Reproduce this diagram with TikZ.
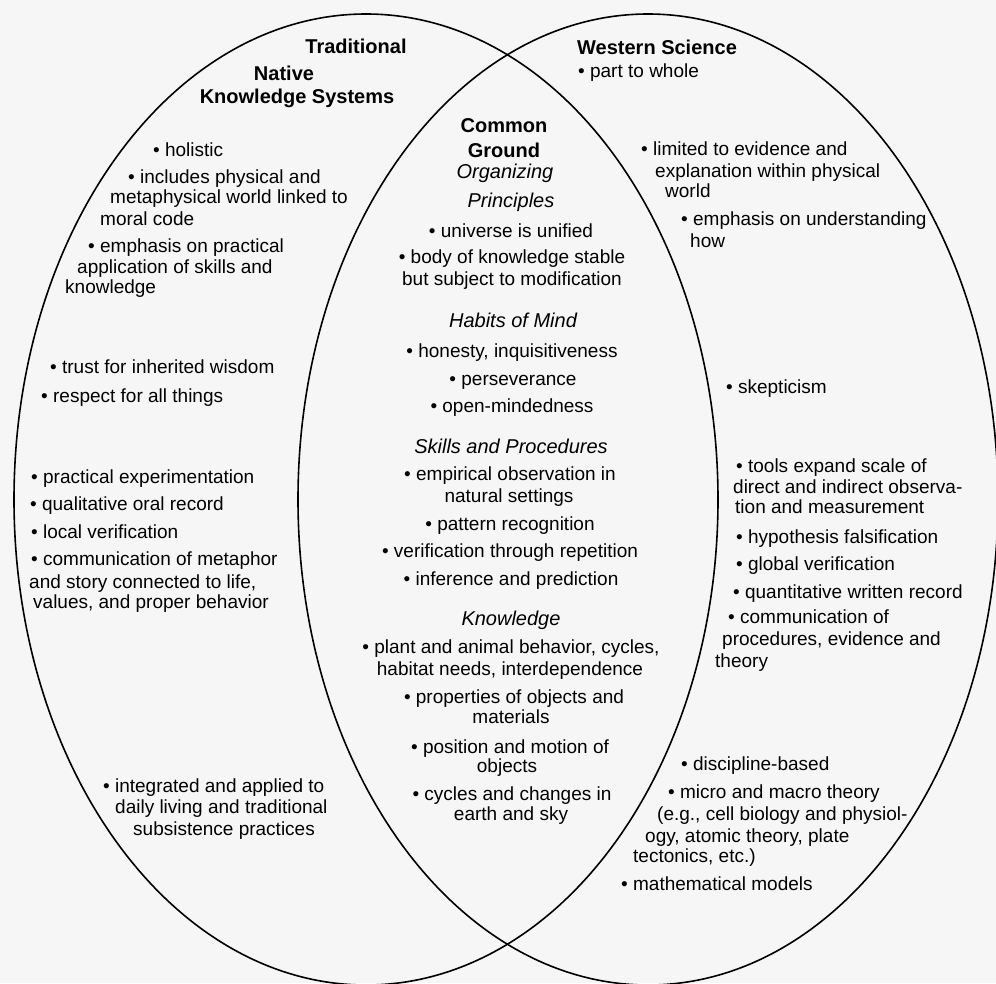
\documentclass[tikz,border=0pt]{standalone}
\usepackage{fontspec}
\setmainfont{Liberation Sans}
\definecolor{bg}{RGB}{246,246,246}
\tikzset{
  body/.style={inner sep=0pt, font=\fontsize{19}{21}\selectfont},
  lft/.style={body, anchor=base west},
  ctr/.style={body, anchor=base},
  ttl/.style={inner sep=0pt, font=\fontsize{20}{22}\selectfont\bfseries},
  hd/.style={inner sep=0pt, anchor=base, font=\fontsize{20}{22}\selectfont\itshape},
  ring/.style={draw=black, line width=1.6pt}
}
\begin{document}
\begin{tikzpicture}[x=1pt,y=-1pt]
\path[fill=bg, use as bounding box] (0,0) rectangle (996,983);
% the two ellipses
\draw[ring] (366,499.5) ellipse [x radius=352pt, y radius=485.5pt];
\draw[ring] (648,499.5) ellipse [x radius=350pt, y radius=485.5pt];

% ---- Traditional Native Knowledge Systems ----
\node[ttl, anchor=base] (t1) at (356,53) {Traditional};
\node[ttl, anchor=base] (t2) at (284,80) {Native};
\node[ttl, anchor=base] (t3) at (297,103) {Knowledge Systems};
\node[lft] (a1) at (153,156) {• holistic};
\node[lft] (a2) at (128,183) {• includes physical and};
\node[lft] (a3) at (110,203) {metaphysical world linked to};
\node[lft] (a4) at (100,225) {moral code};
\node[lft] (a5) at (88,252) {• emphasis on practical};
\node[lft] (a6) at (77,273) {application of skills and};
\node[lft] (a7) at (65,293) {knowledge};
\node[lft] (a8) at (50,373) {• trust for inherited wisdom};
\node[lft] (a9) at (41,402) {• respect for all things};
\node[lft] (a10) at (31,483) {• practical experimentation};
\node[lft] (a11) at (30,510) {• qualitative oral record};
\node[lft] (a12) at (31,538) {• local verification};
\node[lft] (a13) at (31,565) {• communication of metaphor};
\node[lft] (a14) at (29,588) {and story connected to life,};
\node[lft] (a15) at (33,608) {values, and proper behavior};
\node[lft] (a16) at (103,792) {• integrated and applied to};
\node[lft] (a17) at (115,813) {daily living and traditional};
\node[lft] (a18) at (133,835) {subsistence practices};

% ---- Western Science ----
\node[ttl, anchor=base west] (w0) at (577,54) {Western Science};
\node[lft] (w1) at (578,77) {• part to whole};
\node[lft] (w2) at (641,155) {• limited to evidence and};
\node[lft] (w3) at (655,177) {explanation within physical};
\node[lft] (w4) at (665,197) {world};
\node[lft] (w5) at (681,225) {• emphasis on understanding};
\node[lft] (w6) at (690,247) {how};
\node[lft] (w7) at (726,393) {• skepticism};
\node[lft] (w8) at (736,472) {• tools expand scale of};
\node[lft] (w9) at (733,493) {direct and indirect observa-};
\node[lft] (w10) at (735,513) {tion and measurement};
\node[lft] (w11) at (736,543) {• hypothesis falsification};
\node[lft] (w12) at (736,570) {• global verification};
\node[lft] (w13) at (733,598) {• quantitative written record};
\node[lft] (w14) at (728,623) {• communication of};
\node[lft] (w15) at (722,645) {procedures, evidence and};
\node[lft] (w16) at (715,667) {theory};
\node[lft] (w17) at (681,770) {• discipline-based};
\node[lft] (w18) at (668,798) {• micro and macro theory};
\node[lft] (w19) at (657,820) {(e.g., cell biology and physiol-};
\node[lft] (w20) at (645,842) {ogy, atomic theory, plate};
\node[lft] (w21) at (633,862) {tectonics, etc.)};
\node[lft] (w22) at (621,890) {• mathematical models};

% ---- Common Ground ----
\node[ttl, anchor=base] (c1) at (504,132) {Common};
\node[ttl, anchor=base] (c2) at (504,157) {Ground};
\node[hd] (c3) at (505,178) {Organizing};
\node[hd] (c4) at (511,207) {Principles};
\node[ctr] (c5) at (511,237) {• universe is unified};
\node[ctr] (c6) at (512,263) {• body of knowledge stable};
\node[ctr] (c7) at (512,285) {but subject to modification};
\node[hd] (c8) at (513,327) {Habits of Mind};
\node[ctr] (c9) at (512,357) {• honesty, inquisitiveness};
\node[ctr] (c10) at (513,385) {• perseverance};
\node[ctr] (c11) at (512,412) {• open-mindedness};
\node[hd] (c12) at (511,453) {Skills and Procedures};
\node[ctr] (c13) at (510,480) {• empirical observation in};
\node[ctr] (c14) at (509,502) {natural settings};
\node[ctr] (c15) at (510,530) {• pattern recognition};
\node[ctr] (c16) at (510,557) {• verification through repetition};
\node[ctr] (c17) at (511,585) {• inference and prediction};
\node[hd] (c18) at (511,625) {Knowledge};
\node[ctr] (c19) at (511,653) {• plant and animal behavior, cycles,};
\node[ctr] (c20) at (510,675) {habitat needs, interdependence};
\node[ctr] (c21) at (514,703) {• properties of objects and};
\node[ctr] (c22) at (511,723) {materials};
\node[ctr] (c23) at (510,753) {• position and motion of};
\node[ctr] (c24) at (507,772) {objects};
\node[ctr] (c25) at (512,800) {• cycles and changes in};
\node[ctr] (c26) at (511,820) {earth and sky};
\end{tikzpicture}
\end{document}
